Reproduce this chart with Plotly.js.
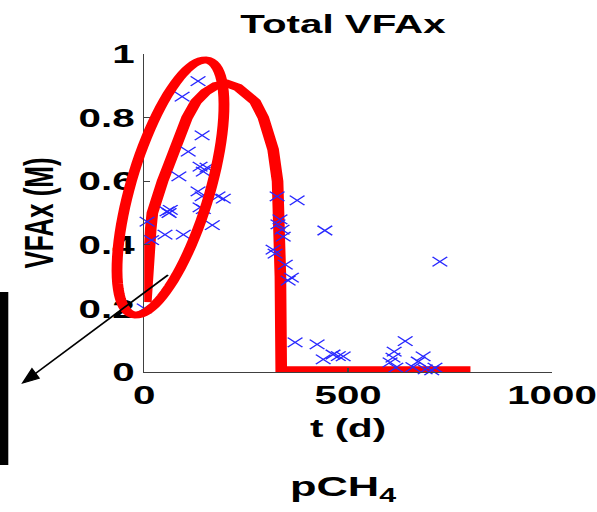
<!DOCTYPE html>
<html>
<head>
<meta charset="utf-8">
<script src="https://cdn.plot.ly/plotly-3.0.1.min.js"></script>
<style>
  html, body { margin: 0; padding: 0; background: #fff; overflow: hidden; }
  #plot { width: 385px; height: 512px; transform: scaleX(1.5506); transform-origin: 0 0; }
</style>
</head>
<body>
<div id="plot"></div>
<script>
// ---- data ----
const curveT = [4, 6, 9, 12, 16, 20, 30, 45, 60, 74, 90, 105, 127, 150, 175, 203, 230, 255, 272, 292, 316, 327, 331, 334, 336, 500, 800];
const curveV = [0.22, 0.30, 0.36, 0.40, 0.45, 0.50, 0.55, 0.60, 0.65, 0.70, 0.75, 0.80, 0.85, 0.88, 0.90, 0.907, 0.895, 0.87, 0.85, 0.80, 0.70, 0.60, 0.50, 0.30, 0.006, 0.006, 0.006];

const obsT = [132, 93, 142, 108, 137, 154, 85, 145, 132, 142, 181, 194, 137, 145, 56, 61, 64, 7, 167, 51, 96, 18, 0,
              326, 375, 333, 328, 338, 341, 443, 316, 321, 346, 353, 361,
              370, 424, 439, 463, 476, 488, 640, 613, 603, 617, 684, 672, 659, 713, 689, 705, 725, 610];
const obsV = [0.915, 0.866, 0.744, 0.693, 0.646, 0.643, 0.615, 0.63, 0.568, 0.552, 0.552, 0.545, 0.518, 0.512, 0.505, 0.50, 0.51, 0.473, 0.462, 0.432, 0.432, 0.415, 0.20,
              0.552, 0.54, 0.48, 0.464, 0.448, 0.426, 0.445, 0.385, 0.372, 0.338, 0.287, 0.297,
              0.093, 0.087, 0.04, 0.055, 0.05, 0.049, 0.097, 0.064, 0.03, 0.014, 0.049, 0.033, 0.015, 0.014, 0.008, 0.005, 0.347, 0.045];

const xTicks = [0, 500, 1000];
const xTickText = ['0', '500', '1000'];
const yTicks = [0, 0.2, 0.4, 0.6, 0.8, 1];
const yTickText = ['0', '0.2', '0.4', '0.6', '0.8', '1'];

const titleText = 'Total VFAx';
const xTitle = 't (d)';
const yTitle = 'VFAx (M)';
const noteText = 'pCH<sub>4</sub>';

// ---- geometry ----
const S = 597 / 385;
const W = 385, H = 512, L = 93, R = 29, T = 54, B = 140;
const PW = W - L - R, PH = H - T - B;
const pxX = xr => (xr / S - L) / PW;
const pxY = yr => (H - B - yr) / PH;

// highlight ellipse (reference pixel space)
const ell = { cx: 170.5, cy: 187.5, a: 132.6, b: 39.3, tilt: 16.65 };
function ellipsePath(e) {
  const th = e.tilt * Math.PI / 180;
  const ux = Math.sin(th), uy = -Math.cos(th);
  const vx = Math.cos(th), vy = Math.sin(th);
  let d = '';
  const n = 90;
  for (let i = 0; i <= n; i++) {
    const p = 2 * Math.PI * i / n;
    const x = e.cx + e.a * Math.cos(p) * ux + e.b * Math.sin(p) * vx;
    const y = e.cy + e.a * Math.cos(p) * uy + e.b * Math.sin(p) * vy;
    d += (i === 0 ? 'M' : 'L') + pxX(x).toFixed(5) + ',' + pxY(y).toFixed(5);
  }
  return d + 'Z';
}

// pointer arrow (reference pixel space)
const arrow = { x0: 168, y0: 275, x1: 22.7, y1: 383, headLen: 16, headHalf: 6 };
function arrowHeadPath(a) {
  const dx = a.x1 - a.x0, dy = a.y1 - a.y0;
  const len = Math.hypot(dx, dy);
  const ux = dx / len, uy = dy / len;
  const bx = a.x1 - a.headLen * ux, by = a.y1 - a.headLen * uy;
  const px = -uy, py = ux;
  const pts = [[a.x1, a.y1], [bx + a.headHalf * px, by + a.headHalf * py], [bx - a.headHalf * px, by - a.headHalf * py]];
  return pts.map((p, i) => (i === 0 ? 'M' : 'L') + pxX(p[0]).toFixed(5) + ',' + pxY(p[1]).toFixed(5)).join('') + 'Z';
}
function arrowShaft(a) {
  const dx = a.x1 - a.x0, dy = a.y1 - a.y0;
  const len = Math.hypot(dx, dy);
  const ex = a.x1 - (a.headLen - 2) * dx / len, ey = a.y1 - (a.headLen - 2) * dy / len;
  return { x0: pxX(a.x0), y0: pxY(a.y0), x1: pxX(ex), y1: pxY(ey) };
}

const FONT = 'Liberation Sans, Arial, Helvetica, sans-serif';
const tf = (size) => ({ family: FONT, size: size, color: '#000', weight: 700 });

const traces = [
  {
    x: curveT, y: curveV, type: 'scatter', mode: 'lines',
    line: { color: 'rgb(255,0,0)', width: 7.5 },
    hoverinfo: 'skip'
  },
  {
    x: obsT, y: obsV, type: 'scatter', mode: 'markers',
    marker: { symbol: 'x-thin-open', size: 9.5, color: 'rgb(40,40,255)', line: { color: 'rgb(40,40,255)', width: 1.1 } },
    cliponaxis: false,
    hoverinfo: 'skip'
  }
];

const shaft = arrowShaft(arrow);

const layout = {
  width: W, height: H,
  margin: { l: L, r: R, t: T, b: B, pad: 0 },
  paper_bgcolor: '#fff', plot_bgcolor: '#fff',
  showlegend: false,
  font: tf(26),
  title: {
    text: titleText, font: tf(26),
    x: pxX(343), xref: 'paper', xanchor: 'center',
    y: 1 - 24 / 512, yref: 'container', yanchor: 'middle'
  },
  xaxis: {
    range: [0, 1000], tickvals: xTicks, ticktext: xTickText,
    ticks: 'inside', ticklen: 4, tickcolor: '#404040', tickwidth: 1,
    showline: true, linecolor: '#404040', linewidth: 1,
    showgrid: false, zeroline: false, mirror: false,
    tickfont: tf(26),
    title: { text: xTitle, font: tf(26), standoff: 9 }
  },
  yaxis: {
    range: [0, 1], tickvals: yTicks, ticktext: yTickText,
    ticks: 'inside', ticklen: 4, tickcolor: '#404040', tickwidth: 1,
    showline: true, linecolor: '#404040', linewidth: 1,
    showgrid: false, zeroline: false, mirror: false,
    tickfont: tf(26),
    title: { text: yTitle, font: tf(26), standoff: 8 }
  },
  shapes: [
    {
      type: 'path', xref: 'paper', yref: 'paper', layer: 'above',
      path: ellipsePath(ell),
      line: { color: 'rgb(255,0,0)', width: 7 }, fillcolor: 'rgba(0,0,0,0)'
    },
    {
      type: 'rect', xref: 'paper', yref: 'paper', layer: 'above',
      x0: pxX(0), x1: pxX(8.3), y0: pxY(465), y1: pxY(292),
      fillcolor: '#000', line: { width: 0 }
    },
    {
      type: 'line', xref: 'paper', yref: 'paper', layer: 'above',
      x0: shaft.x0, y0: shaft.y0, x1: shaft.x1, y1: shaft.y1,
      line: { color: '#000', width: 1.4 }
    },
    {
      type: 'path', xref: 'paper', yref: 'paper', layer: 'above',
      path: arrowHeadPath(arrow),
      fillcolor: '#000', line: { color: '#000', width: 1 }
    }
  ],
  annotations: [
    {
      xref: 'paper', yref: 'paper', x: pxX(343), y: pxY(488),
      xanchor: 'center', yanchor: 'middle', showarrow: false,
      text: noteText, font: tf(28)
    }
  ]
};

Plotly.newPlot('plot', traces, layout, { staticPlot: true, displayModeBar: false });
</script>
</body>
</html>
